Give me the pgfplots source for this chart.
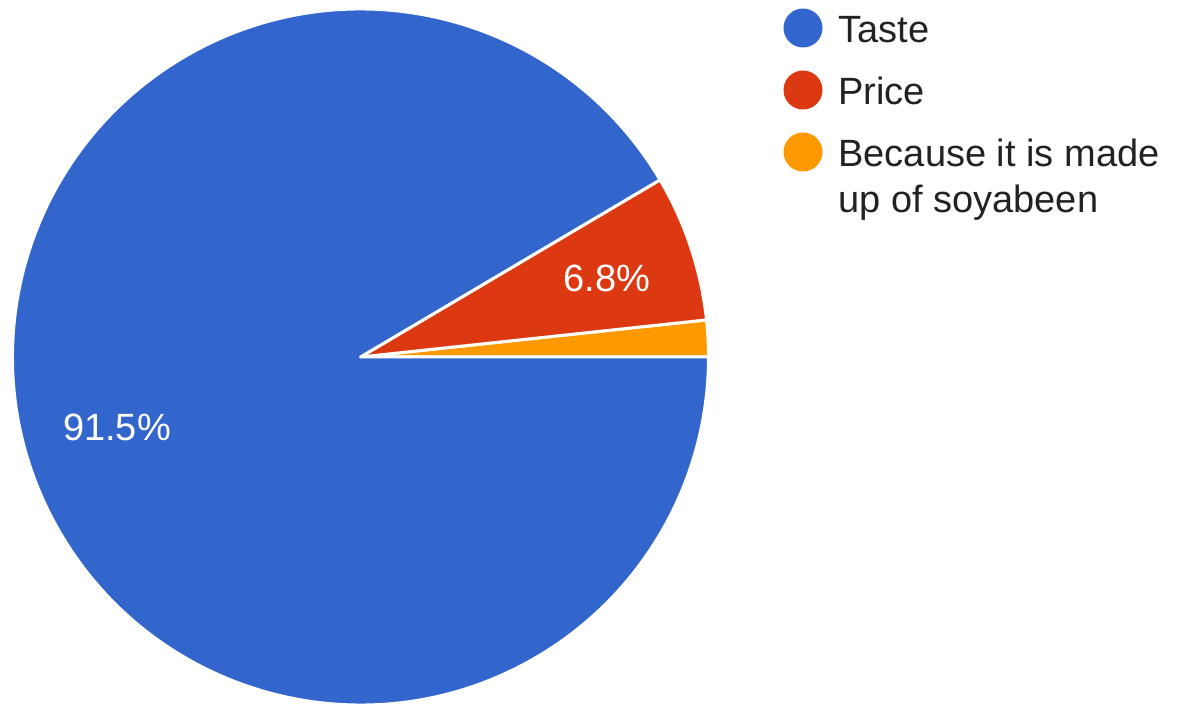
\documentclass[border=0pt]{standalone}
\usepackage{pgfplots}
\pgfplotsset{compat=1.18}
\usepackage{fontspec}
\setmainfont{Liberation Sans}
\definecolor{cTaste}{HTML}{3366CC}
\definecolor{cPrice}{HTML}{DC3912}
\definecolor{cSoy}{HTML}{FF9900}
\definecolor{cText}{HTML}{222222}
% shares (percent)
\def\vTaste{91.5}
\def\vPrice{6.8}
\def\vSoy{1.7}
\begin{document}
\begin{tikzpicture}
\pgfmathsetmacro{\aSoy}{\vSoy*3.6}
\pgfmathsetmacro{\aPrice}{\aSoy+\vPrice*3.6}
\begin{axis}[x=0.5pt,y=0.5pt,xmin=0,xmax=1186,ymin=0,ymax=705,enlargelimits=false,hide axis,clip=false]
% pie slices, start at 3 o'clock, counter-clockwise
\fill[cSoy, draw=white, line width=1.5pt, line join=round] (axis cs:360.5,348) -- ++(0:174pt) arc[start angle=0,end angle=\aSoy,radius=174pt] -- cycle;
\fill[cPrice, draw=white, line width=1.5pt, line join=round] (axis cs:360.5,348) -- ++(\aSoy:174pt) arc[start angle=\aSoy,end angle=\aPrice,radius=174pt] -- cycle;
\fill[cTaste, draw=white, line width=1.5pt, line join=round] (axis cs:360.5,348) -- ++(\aPrice:174pt) arc[start angle=\aPrice,end angle=360,radius=174pt] -- cycle;
% slice labels
\node[text=white, font=\fontsize{19}{23}\selectfont] at (axis cs:117,278) {91.5\%};
\node[text=white, font=\fontsize{19}{23}\selectfont] at (axis cs:607,427) {6.8\%};
% legend
\node[circle, fill=cTaste, minimum size=19.5pt, inner sep=0pt] at (axis cs:803,677) {};
\node[circle, fill=cPrice, minimum size=19.5pt, inner sep=0pt] at (axis cs:803,615) {};
\node[circle, fill=cSoy, minimum size=19.5pt, inner sep=0pt] at (axis cs:803,553) {};
\node[anchor=base west, inner sep=0pt, text=cText, font=\fontsize{19}{23}\selectfont] at (axis cs:838,662) {Taste};
\node[anchor=base west, inner sep=0pt, text=cText, font=\fontsize{19}{23}\selectfont] at (axis cs:838,600) {Price};
\node[anchor=base west, inner sep=0pt, text=cText, font=\fontsize{19}{23}\selectfont] at (axis cs:838,538) {Because it is made};
\node[anchor=base west, inner sep=0pt, text=cText, font=\fontsize{19}{23}\selectfont] at (axis cs:838,492) {up of soyabeen};
\end{axis}
\pgfresetboundingbox
\useasboundingbox (current axis.south west) rectangle (current axis.north east);
\end{tikzpicture}
\end{document}
